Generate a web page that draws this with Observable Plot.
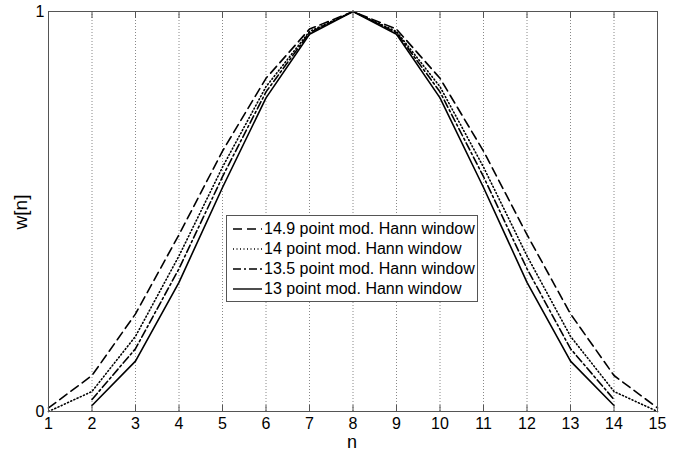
<!DOCTYPE html>
<html>
<head>
<meta charset="utf-8">
<script src="https://cdn.jsdelivr.net/npm/d3@7"></script>
<script src="https://cdn.jsdelivr.net/npm/@observablehq/plot@0.6"></script>
<style>
  body { margin: 0; background: #fff; }
  #wrap { position: relative; width: 676px; height: 452px; font-family: "Liberation Sans", Arial, sans-serif; }
  #legend { position: absolute; left: 226px; top: 215px; width: 252px; height: 87px; border: 1px solid #555; background: #fff; box-sizing: border-box; }
  .row { position: absolute; left: 6px; height: 20px; display: flex; align-items: center; font-size: 16px; color: #000; white-space: nowrap; }
  .row svg { margin-right: 1px; }
  .lab { position: absolute; font-size: 19px; color: #000; line-height: 1; }
</style>
</head>
<body>
<div id="wrap"></div>
<script>
const nAll = [1,2,3,4,5,6,7,8,9,10,11,12,13,14,15];
const nInner = [2,3,4,5,6,7,8,9,10,11,12,13,14];
const w149 = [0.009,0.090,0.244,0.442,0.651,0.833,0.956,1,0.956,0.833,0.651,0.442,0.244,0.090,0.009];
const w14  = [0,0.050,0.188,0.389,0.611,0.812,0.950,1,0.950,0.812,0.611,0.389,0.188,0.050,0];
const w135 = [0.030,0.157,0.357,0.587,0.799,0.947,1,0.947,0.799,0.587,0.357,0.157,0.030];
const w13  = [0.015,0.126,0.323,0.560,0.784,0.943,1,0.943,0.784,0.560,0.323,0.126,0.015];
const seriesNames = ["14.9 point mod. Hann window","14 point mod. Hann window","13.5 point mod. Hann window","13 point mod. Hann window"];
const dashes = ["9,5", "1,2.5", "8,3,2,3", null];
const xTicks = nAll;
const yTicks = [0,1];
const xLabel = "n";
const yLabel = "w[n]";

const mk = (xs, ys) => xs.map((x,i) => ({n:x, w:ys[i]}));
const sets = [mk(nAll,w149), mk(nAll,w14), mk(nInner,w135), mk(nInner,w13)];

const font = "\"Liberation Sans\", Arial, sans-serif";
const chart = Plot.plot({
  width: 676, height: 452,
  marginLeft: 48, marginRight: 19, marginTop: 11, marginBottom: 41,
  style: {fontFamily: font, fontSize: "16px", background: "#fff", color: "#000"},
  x: {domain: [1,15]},
  y: {domain: [0,1]},
  marks: [
    Plot.ruleX(xTicks, {stroke: "#888", strokeDasharray: "1,2", strokeWidth: 1}),
    ...sets.map((d,i) => Plot.line(d, {x:"n", y:"w", stroke:"#000", strokeWidth:1.6, strokeDasharray: dashes[i]})),
    Plot.frame({stroke: "#555", strokeWidth: 1}),
    Plot.axisX({ticks: xTicks, tickSize: -6, tickPadding: 12, tickFormat: d => String(d), label: null, stroke: "#555", fontSize: 16}),
    Plot.axisX({anchor: "top", ticks: xTicks, tickSize: -6, tickFormat: () => "", label: null, stroke: "#555"}),
    Plot.axisY({ticks: yTicks, tickSize: -6, tickPadding: 10, tickFormat: d => String(d), label: null, stroke: "#555", fontSize: 16}),
    Plot.axisY({anchor: "right", ticks: yTicks, tickSize: -6, tickFormat: () => "", label: null, stroke: "#555"})
  ]
});
const wrap = document.getElementById("wrap");
wrap.appendChild(chart);

const xl = document.createElement("div");
xl.className = "lab";
xl.textContent = xLabel;
xl.style.left = "347px"; xl.style.top = "433px"; xl.style.fontSize = "18px";
wrap.appendChild(xl);
const yl = document.createElement("div");
yl.className = "lab";
yl.textContent = yLabel;
yl.style.left = "20px"; yl.style.top = "212px";
yl.style.transform = "translate(-50%,-50%) rotate(-90deg)";
wrap.appendChild(yl);

const legend = document.createElement("div");
legend.id = "legend";
seriesNames.forEach((name, i) => {
  const row = document.createElement("div");
  row.className = "row";
  row.style.top = (3 + i*20) + "px";
  row.innerHTML = `<svg width="30" height="20"><line x1="0" y1="10" x2="29" y2="10" stroke="#000" stroke-width="1.4" ${dashes[i] ? `stroke-dasharray="${dashes[i]}"` : ""}/></svg><span>${name}</span>`;
  legend.appendChild(row);
});
wrap.appendChild(legend);
</script>
</body>
</html>
